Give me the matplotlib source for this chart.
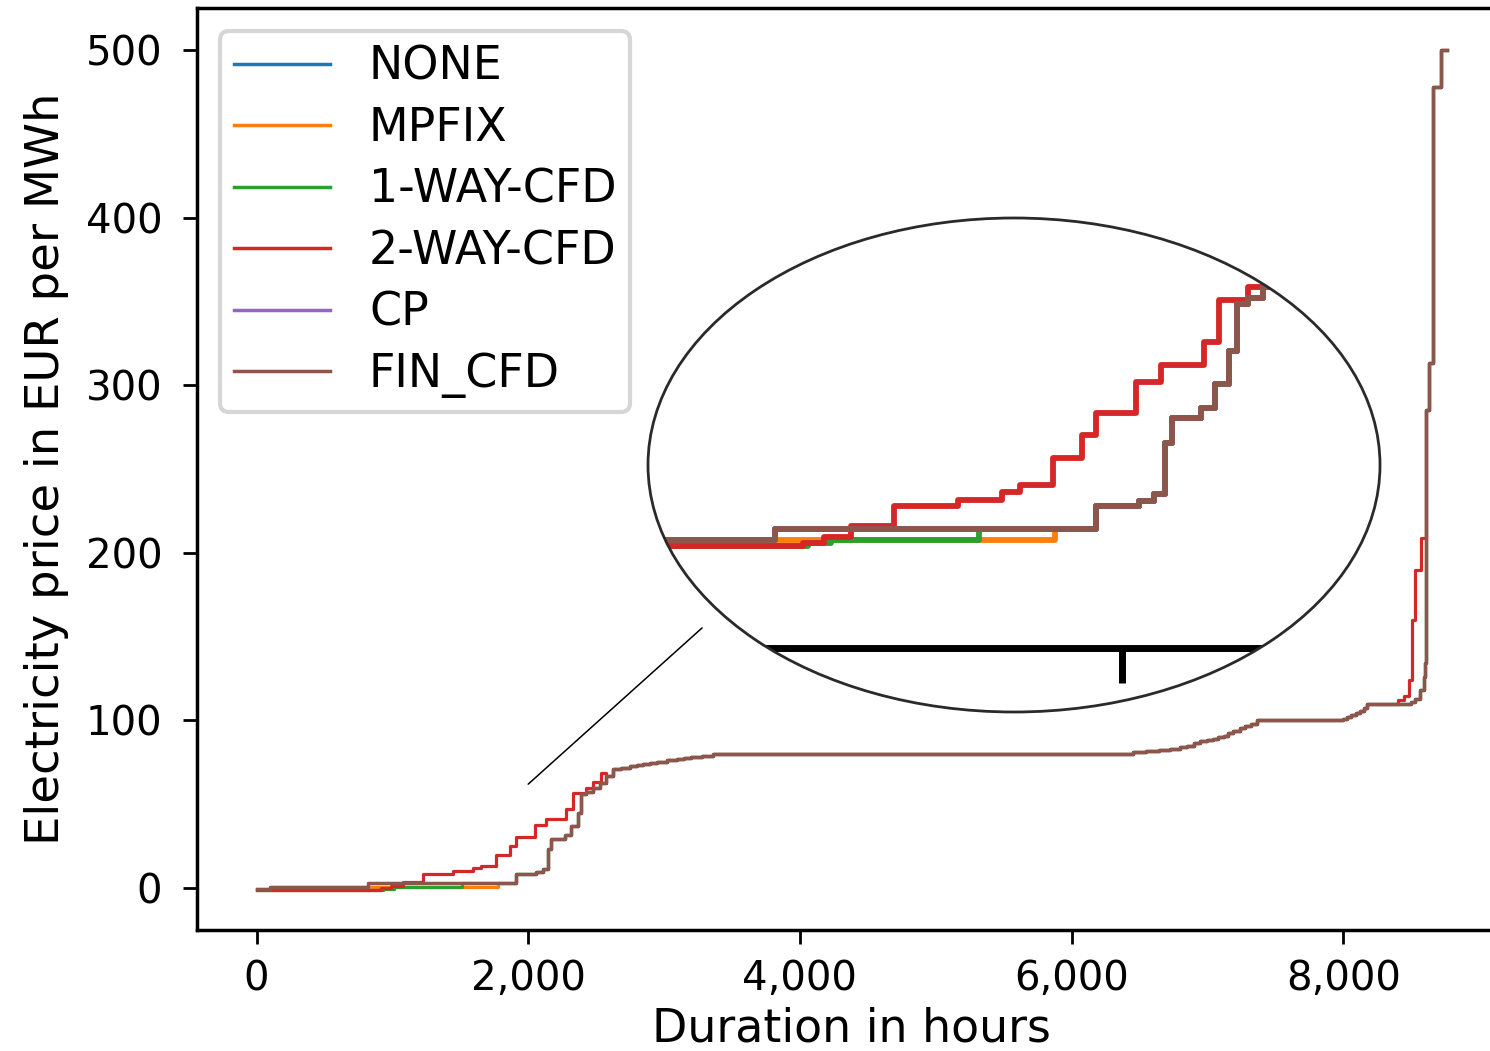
import matplotlib
matplotlib.use('Agg')
import matplotlib.pyplot as plt
from matplotlib.patches import Ellipse, ConnectionPatch
from matplotlib.ticker import StrMethodFormatter

plt.rcParams['font.family'] = ['DejaVu Sans']

series_names = ['NONE', 'MPFIX', '1-WAY-CFD', '2-WAY-CFD', 'CP', 'FIN_CFD']
series_colors = ['#1f77b4', '#ff7f0e', '#2ca02c', '#d62728', '#9467bd', '#8c564b']

# ---- price duration curves (hours, EUR/MWh) ----
# low end shared by NONE, CP and FIN_CFD
base_head_hours = [0, 100, 820, 1913, 2060, 2109, 2146, 2171, 2269, 2318, 2367, 2392, 2429,
                   2480, 2527, 2576]
base_head_price = [-0.5, 0.4, 3.0, 8.3, 9.5, 11.3, 23.2, 29.2, 31.5, 37.1, 45.0, 56.0, 57.3,
                   60.0, 62.9, 66.8]

# low end of MPFIX (then follows the base)
mpfix_head_hours = [0, 100, 1775]
mpfix_head_price = [-0.5, 0.4, 3.0]

# low end of 1-WAY-CFD (then follows the base)
cfd1_head_hours = [0, 933, 1013, 1516]
cfd1_head_price = [-1.0, -0.3, 0.4, 3.0]

# low end of 2-WAY-CFD
cfd2_head_hours = [0, 916, 989, 1078, 1225, 1445, 1593, 1655, 1765, 1864, 1913, 2048,
                   2134, 2281, 2330, 2429, 2480, 2539]
cfd2_head_price = [-1.0, -0.2, 1.0, 3.6, 8.3, 9.9, 11.7, 13.3, 19.6, 25.2, 30.2, 37.5,
                   41.5, 47.0, 57.0, 60.0, 63.5, 68.9]

# middle part shared by all scenarios
mid_hours = [2625, 2680, 2750, 2800, 2844, 2900, 2950, 3020, 3094, 3150, 3200, 3280, 3360,
             6453, 6550, 6640, 6726, 6800, 6850, 6900, 6947, 7000, 7042, 7080, 7120, 7150,
             7190, 7240, 7280, 7320, 7367, 8000, 8030, 8060, 8095, 8125, 8150, 8177]
mid_price = [70.8, 71.8, 72.6, 73.3, 74.0, 74.8, 75.5, 76.2, 77.0, 77.5, 78.0, 79.0, 80.0,
             81.0, 81.8, 82.5, 83.0, 84.0, 85.0, 86.3, 87.5, 88.3, 89.0, 90.0, 91.0, 92.5,
             94.0, 95.3, 96.5, 98.0, 100.0, 101.0, 102.3, 103.5, 104.5, 105.5, 107.5, 110.0]

# high end (all but 2-WAY-CFD)
base_top_hours = [8500, 8530, 8567, 8592, 8604, 8611, 8628, 8661, 8720, 8760]
base_top_price = [111.0, 112.5, 118.0, 126.0, 134.0, 285.0, 313.0, 478.0, 500.0, 500.0]

# high end of 2-WAY-CFD
cfd2_top_hours = [8405, 8444, 8481, 8506, 8530, 8572, 8611, 8628, 8661, 8720, 8760]
cfd2_top_price = [112.0, 114.5, 124.0, 160.0, 190.0, 208.7, 285.0, 313.0, 478.0, 500.0, 500.0]

xticks = [0, 2000, 4000, 6000, 8000]
yticks = [0, 100, 200, 300, 400, 500]
zoom_tick = 2000


def build(head_h, head_p, top_h, top_p):
    h = list(head_h)
    p = list(head_p)
    for hh, pp in zip(base_head_hours, base_head_price):
        if hh > head_h[-1]:
            h.append(hh)
            p.append(pp)
    h += mid_hours + list(top_h)
    p += mid_price + list(top_p)
    return h, p


curves = {
    'NONE': build(base_head_hours, base_head_price, base_top_hours, base_top_price),
    'MPFIX': build(mpfix_head_hours, mpfix_head_price, base_top_hours, base_top_price),
    '1-WAY-CFD': build(cfd1_head_hours, cfd1_head_price, base_top_hours, base_top_price),
    '2-WAY-CFD': build(cfd2_head_hours, cfd2_head_price, cfd2_top_hours, cfd2_top_price),
    'CP': build(base_head_hours, base_head_price, base_top_hours, base_top_price),
    'FIN_CFD': build(base_head_hours, base_head_price, base_top_hours, base_top_price),
}

W, H = 1490, 1051
fig = plt.figure(figsize=(W / 100, H / 100), dpi=100)
fig.patch.set_facecolor('white')

ax = fig.add_axes([197 / W, 1 - 930 / H, (1506 - 197) / W, (930 - 8) / H])
for name, col in zip(series_names, series_colors):
    h, p = curves[name]
    ax.plot(h, p, drawstyle='steps-post', color=col, lw=2.3, label=name)

ax.set_xlim(-438, 9198)
ax.set_ylim(-25, 525)
ax.set_xticks(xticks)
ax.set_yticks(yticks)
ax.xaxis.set_major_formatter(StrMethodFormatter('{x:,.0f}'))
ax.tick_params(axis='both', labelsize=29, length=10, width=2)
ax.tick_params(axis='x', pad=11)
ax.tick_params(axis='y', pad=15)
for s in ax.spines.values():
    s.set_linewidth(2.5)
ax.set_xlabel('Duration in hours', fontsize=33, labelpad=5)
ax.set_ylabel('Electricity price in EUR per MWh', fontsize=33.5, labelpad=12)

leg = ax.legend(loc='upper left', fontsize=33, handlelength=2.1, handletextpad=0.85,
                labelspacing=0.36, borderpad=0.3, borderaxespad=0.5, framealpha=0.8)
leg.get_frame().set_linewidth(3)
leg.get_frame().set_edgecolor('#cccccc')
for ln in leg.get_lines():
    ln.set_linewidth(2.5)

# ---- magnified elliptical view ----
ax_in = fig.add_axes([648 / W, 1 - 712 / H, (1380 - 648) / W, (712 - 218) / H])
ax_in.set_xlim(389, 2879)
ax_in.set_ylim(-40.1, 76.2)
ax_in.set_axis_off()
clip = Ellipse((0.5, 0.5), 1.0, 1.0, transform=ax_in.transAxes, facecolor='white',
               edgecolor='none', zorder=0)
ax_in.add_patch(clip)
for name, col in zip(series_names, series_colors):
    h, p = curves[name]
    ln, = ax_in.plot(h, p, drawstyle='steps-post', color=col, lw=4.2, zorder=2)
    ln.set_clip_path(clip)
spine_y = ax.get_ylim()[0]
sp, = ax_in.plot([ax_in.get_xlim()[0], ax_in.get_xlim()[1]], [spine_y, spine_y],
                 color='black', lw=5, zorder=3, solid_capstyle='butt')
sp.set_clip_path(clip)
tk, = ax_in.plot([zoom_tick, zoom_tick], [spine_y, spine_y - 8.2], color='black', lw=5,
                 zorder=3, solid_capstyle='butt')
tk.set_clip_path(clip)
ax_in.add_patch(Ellipse((0.5, 0.5), 1.0, 1.0, transform=ax_in.transAxes, facecolor='none',
                        edgecolor='#2a2a2a', lw=2.0, zorder=5, clip_on=False))

con = ConnectionPatch(xyA=(zoom_tick, 62), coordsA=ax.transData,
                      xyB=(573, -20.3), coordsB=ax_in.transData,
                      color='black', lw=1.1)
fig.add_artist(con)

fig.savefig('out.png', dpi=100, facecolor='white')
